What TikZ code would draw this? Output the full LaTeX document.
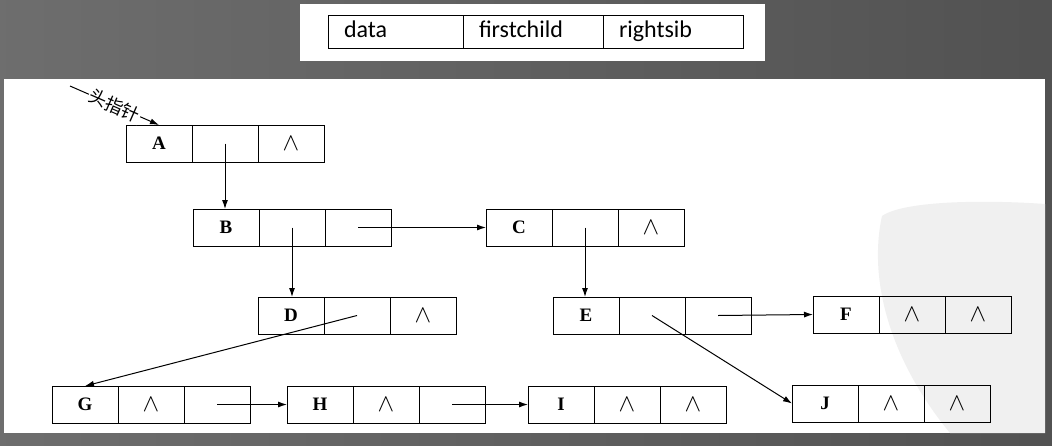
\documentclass[tikz,border=0pt]{standalone}
\usepackage{fontspec}
\setmainfont{Liberation Serif}
\newfontfamily\cjkfont{Noto Sans CJK SC}
\newfontfamily\labelfont{Carlito}
\usetikzlibrary{arrows.meta,positioning}

\begin{document}
\begin{tikzpicture}[x=1pt,y=-1pt,>={Latex[length=9pt,width=6pt]},line width=1pt,
  cell/.style={draw,outer sep=0pt,minimum width=66pt,minimum height=37pt,inner sep=0pt,font=\fontsize{19}{19}\selectfont\bfseries},
  nil/.style={cell,font=\fontsize{25}{25}\selectfont},
  hcell/.style={draw,outer sep=0pt,minimum height=33pt,inner xsep=16pt,text width=#1,text height=15pt,text depth=4pt,align=left,font=\labelfont\fontsize{24}{24}\selectfont}]
% slide background
\shade[left color=black!57,right color=black!68] (0,0) rectangle (1052,445);
\fill[white] (300,4) rectangle (765,61);
\fill[white] (4,79) rectangle (1045,433);
\fill[black!6] (882,216) .. controls (868,280) and (890,360) .. (950,433) -- (1045,433) -- (1045,204) .. controls (990,200) and (905,200) .. (882,216) -- cycle;
% node layout
\node[hcell=103pt,anchor=north west] (hdata) at (328,15) {data};
\node[hcell=108pt,right=0pt of hdata] (hchild) {firstchild};
\node[hcell=108pt,right=0pt of hchild] (hsib) {rightsib};
% A
\node[cell,anchor=north west] (A) at (126,125) {A};
\node[cell,right=0pt of A] (A1) {};
\node[nil,right=0pt of A1] (A2) {$\wedge$};
% B, C
\node[cell,anchor=north west] (B) at (193,209) {B};
\node[cell,right=0pt of B] (B1) {};
\node[cell,right=0pt of B1] (B2) {};
\node[cell,anchor=north west] (C) at (486,209) {C};
\node[cell,right=0pt of C] (C1) {};
\node[nil,right=0pt of C1] (C2) {$\wedge$};
% D, E, F
\node[cell,anchor=north west] (D) at (258,297) {D};
\node[cell,right=0pt of D] (D1) {};
\node[nil,right=0pt of D1] (D2) {$\wedge$};
\node[cell,anchor=north west] (E) at (553,297) {E};
\node[cell,right=0pt of E] (E1) {};
\node[cell,right=0pt of E1] (E2) {};
\node[cell,anchor=north west] (F) at (813,296) {F};
\node[nil,right=0pt of F] (F1) {$\wedge$};
\node[nil,right=0pt of F1] (F2) {$\wedge$};
% G, H, I, J
\node[cell,anchor=north west] (G) at (52,386) {G};
\node[nil,right=0pt of G] (G1) {$\wedge$};
\node[cell,right=0pt of G1] (G2) {};
\node[cell,anchor=north west] (H) at (287,386) {H};
\node[nil,right=0pt of H] (H1) {$\wedge$};
\node[cell,right=0pt of H1] (H2) {};
\node[cell,anchor=north west] (I) at (528,386) {I};
\node[nil,right=0pt of I] (I1) {$\wedge$};
\node[nil,right=0pt of I1] (I2) {$\wedge$};
\node[cell,anchor=north west] (J) at (792,385) {J};
\node[nil,right=0pt of J] (J1) {$\wedge$};
\node[nil,right=0pt of J1] (J2) {$\wedge$};
% pointers
\coordinate (head) at (70,86);
\draw[->] (head) -- (A.north) node[midway,sloped,fill=white,inner sep=1pt,font=\cjkfont\fontsize{18}{18}\selectfont] (headlbl) {头指针};
\draw[->] (A1.center) -- (A1.center |- B.north);
\draw[->] (B1.center) -- (B1.center |- D.north);
\draw[->] (B2.center) -- (C.west);
\draw[->] (C1.center) -- (C1.center |- E.north);
\draw[->] (D1.center) -- (G.north);
\draw[->] (E1.center) -- (J.west);
\draw[->] (E2.center) -- (F.west);
\draw[->] (G2.center) -- (H.west);
\draw[->] (H2.center) -- (I.west);
\end{tikzpicture}
\end{document}
